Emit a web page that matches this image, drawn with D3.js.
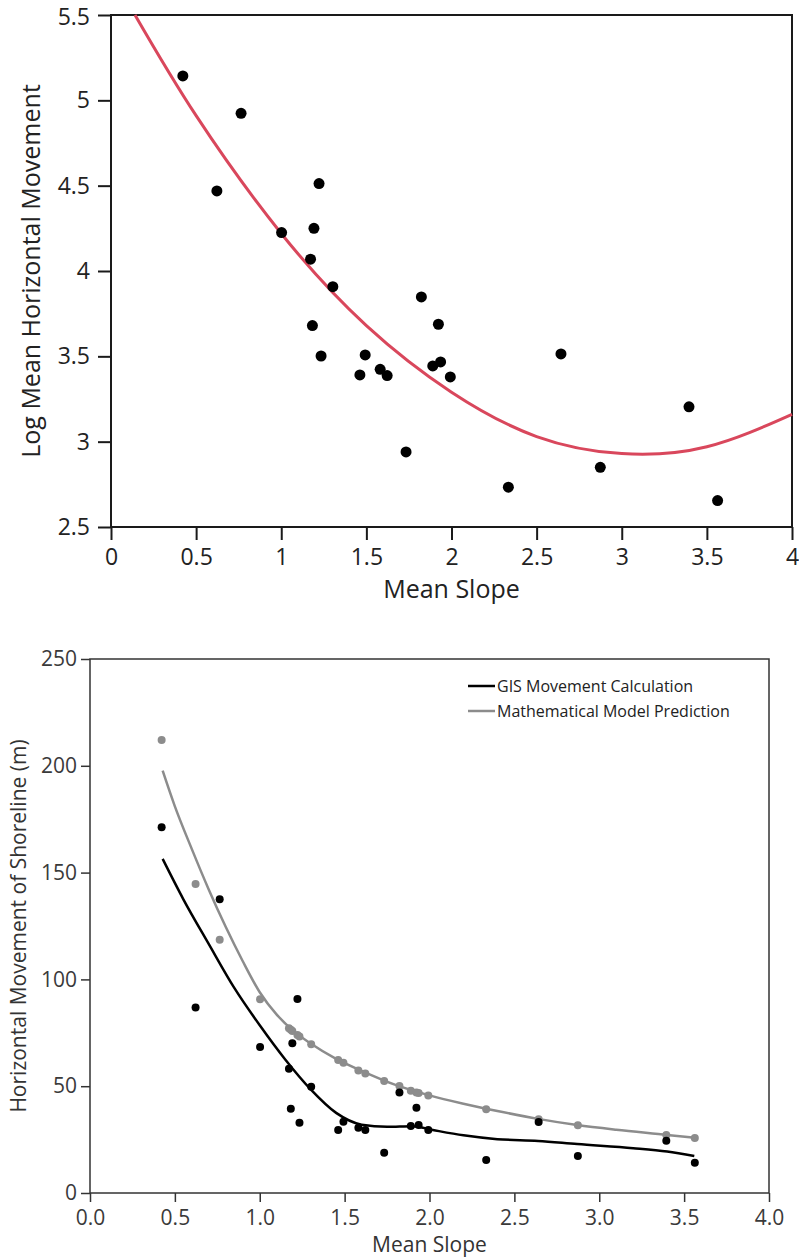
<!DOCTYPE html>
<html>
<head>
<meta charset="utf-8">
<script src="https://cdn.jsdelivr.net/npm/d3@7/dist/d3.min.js"></script>
<style>
    body { margin: 0; background: #fff; }
    svg { display: block; font-family: 'Open Sans', sans-serif; }
    .domain { display: none; }
</style>
</head>
<body>
<svg id="chart" width="799" height="1259"></svg>
<script>
// Mean slope of each site (same sites in both panels)
const slope = [
    0.422, 0.622, 0.764, 1.002, 1.172, 1.183, 1.192, 1.222, 1.234, 1.303,
    1.462, 1.493, 1.581, 1.622, 1.733, 1.823, 1.890, 1.923, 1.936, 1.993,
    2.334, 2.643, 2.874, 3.395, 3.563
];

// Top panel: log of mean horizontal movement
const logMovement = [
    5.143, 4.469, 4.924, 4.225, 4.069, 3.680, 4.250, 4.512, 3.502, 3.908,
    3.391, 3.508, 3.424, 3.387, 2.940, 3.848, 3.444, 3.688, 3.467, 3.379,
    2.733, 3.514, 2.850, 3.204, 2.655
];

// Bottom panel: GIS movement (black) and model prediction (grey), metres
const gisMovement = [
    171.2, 86.9, 137.5, 68.4, 58.2, 39.5, 70.1, 90.8, 32.9, 49.8,
    29.5, 33.4, 30.6, 29.5, 18.9, 47.0, 31.4, 39.9, 31.8, 29.5,
    15.4, 33.2, 17.3, 24.5, 14.2
];
const modelMovement = [
    212.1, 144.7, 118.6, 90.7, 77.1, 76.4, 75.8, 74.0, 73.3, 69.6,
    62.3, 61.0, 57.3, 56.0, 52.4, 50.1, 47.9, 47.1, 46.8, 45.7,
    39.2, 34.5, 31.7, 27.2, 25.7
];

// Fitted curves
const quadFitSlope = [0.141, 0.5, 1.0, 1.5, 2.0, 2.5, 3.0, 3.5, 4.0];
const quadFitLog = [5.50, 4.91, 4.22, 3.68, 3.29, 3.03, 2.93, 2.97, 3.16];

const gisFitSlope = [0.428, 0.55, 0.70, 0.85, 1.00, 1.15, 1.30, 1.45, 1.60, 1.75, 1.90, 2.02, 2.20, 2.40, 2.64, 2.87, 3.20, 3.40, 3.56];
const gisFitValue = [156.4, 137.5, 116.5, 96.0, 78.5, 62.5, 48.5, 37.5, 32.0, 31.0, 31.3, 29.5, 27.0, 25.2, 24.4, 22.9, 21.0, 19.4, 17.3];

const modelFitSlope = [0.428, 0.5, 0.6, 0.7, 0.8, 0.9, 1.0, 1.1, 1.2, 1.3, 1.45, 1.6, 1.8, 2.0, 2.2, 2.4, 2.64, 2.87, 3.1, 3.4, 3.565];
const modelFitValue = [197.7, 181.0, 161.0, 142.0, 124.5, 108.5, 94.0, 83.5, 75.8, 70.0, 62.8, 57.2, 50.6, 45.7, 41.8, 38.4, 34.7, 31.8, 29.6, 27.2, 25.8];

// Ticks and labels
const topXTicks = [0, 0.5, 1, 1.5, 2, 2.5, 3, 3.5, 4];
const topYTicks = [2.5, 3, 3.5, 4, 4.5, 5, 5.5];
const bottomXTicks = [0, 0.5, 1, 1.5, 2, 2.5, 3, 3.5, 4];
const bottomYTicks = [0, 50, 100, 150, 200, 250];
const legendLabels = ['GIS Movement Calculation', 'Mathematical Model Prediction'];
const legendColors = ['#000000', '#8c8c8c'];

const svg = d3.select('#chart');

/* ===== Top panel: log movement with quadratic fit ===== */
const upper = {
    left: 111, right: 792, top: 15, bottom: 527,
    x: d3.scaleLinear().domain([0, 4]),
    y: d3.scaleLinear().domain([2.5, 5.5])
};
upper.x.range([upper.left, upper.right]);
upper.y.range([upper.bottom, upper.top]);

const gTop = svg.append('g');

gTop.append('rect')
    .attr('x', upper.left).attr('y', upper.top)
    .attr('width', upper.right - upper.left).attr('height', upper.bottom - upper.top)
    .attr('fill', 'none').attr('stroke', '#1a1a1a').attr('stroke-width', 2);

const topXAxis = gTop.append('g')
    .attr('transform', `translate(0,${upper.bottom})`)
    .call(d3.axisBottom(upper.x).tickValues(topXTicks).tickSize(13).tickPadding(9).tickFormat(d3.format('~g')));
const topYAxis = gTop.append('g')
    .attr('transform', `translate(${upper.left},0)`)
    .call(d3.axisLeft(upper.y).tickValues(topYTicks).tickSize(13).tickPadding(8).tickFormat(d3.format('~g')));
[topXAxis, topYAxis].forEach(a => {
    a.attr('font-family', null).attr('font-size', null);
    a.selectAll('line').attr('stroke', '#1a1a1a').attr('stroke-width', 2);
    a.selectAll('text').attr('fill', '#222').style('font-size', '23px');
});
// keep the top label inside the page
topYAxis.selectAll('.tick text').filter(d => d === 5.5).attr('dy', '0.42em');

const quadLine = d3.line()
    .x(d => upper.x(d[0]))
    .y(d => upper.y(d[1]))
    .curve(d3.curveNatural);

gTop.append('path')
    .datum(d3.zip(quadFitSlope, quadFitLog))
    .attr('d', quadLine)
    .attr('fill', 'none')
    .attr('stroke', '#d9475c')
    .attr('stroke-width', 3);

gTop.selectAll('.dot')
    .data(d3.zip(slope, logMovement))
    .enter().append('circle')
    .attr('cx', d => upper.x(d[0]))
    .attr('cy', d => upper.y(d[1]))
    .attr('r', 5.5)
    .attr('fill', '#000');

gTop.append('text')
    .attr('x', (upper.left + upper.right) / 2).attr('y', 598)
    .attr('text-anchor', 'middle')
    .style('font-size', '25px').attr('fill', '#222')
    .text('Mean Slope');
gTop.append('text')
    .attr('transform', `translate(40,${(upper.top + upper.bottom) / 2}) rotate(-90)`)
    .attr('text-anchor', 'middle')
    .style('font-size', '25px').attr('fill', '#222')
    .text('Log Mean Horizontal Movement');

/* ===== Bottom panel: GIS vs model ===== */
const lower = {
    left: 90, right: 769, top: 659, bottom: 1193,
    x: d3.scaleLinear().domain([0, 4]),
    y: d3.scaleLinear().domain([0, 250])
};
lower.x.range([lower.left, lower.right]);
lower.y.range([lower.bottom, lower.top]);

const gBot = svg.append('g');

gBot.append('rect')
    .attr('x', lower.left).attr('y', lower.top)
    .attr('width', lower.right - lower.left).attr('height', lower.bottom - lower.top)
    .attr('fill', 'none').attr('stroke', '#333').attr('stroke-width', 1.5);

const botXAxis = gBot.append('g')
    .attr('transform', `translate(0,${lower.bottom})`)
    .call(d3.axisBottom(lower.x).tickValues(bottomXTicks).tickSize(9).tickPadding(8).tickFormat(d3.format('.1f')));
const botYAxis = gBot.append('g')
    .attr('transform', `translate(${lower.left},0)`)
    .call(d3.axisLeft(lower.y).tickValues(bottomYTicks).tickSize(9).tickPadding(4));
[botXAxis, botYAxis].forEach(a => {
    a.attr('font-family', null).attr('font-size', null);
    a.selectAll('line').attr('stroke', '#333').attr('stroke-width', 1.5);
    a.selectAll('text').attr('fill', '#3a3a3a').style('font-size', '21px');
});

const botLine = d3.line()
    .x(d => lower.x(d[0]))
    .y(d => lower.y(d[1]))
    .curve(d3.curveMonotoneX);

// model first so the GIS line sits on top
gBot.append('path')
    .datum(d3.zip(modelFitSlope, modelFitValue))
    .attr('d', botLine)
    .attr('fill', 'none').attr('stroke', legendColors[1]).attr('stroke-width', 2.5);
gBot.append('path')
    .datum(d3.zip(gisFitSlope, gisFitValue))
    .attr('d', botLine)
    .attr('fill', 'none').attr('stroke', legendColors[0]).attr('stroke-width', 2.5);

gBot.selectAll('.model')
    .data(d3.zip(slope, modelMovement))
    .enter().append('circle')
    .attr('cx', d => lower.x(d[0]))
    .attr('cy', d => lower.y(d[1]))
    .attr('r', 4)
    .attr('fill', legendColors[1]);
gBot.selectAll('.gis')
    .data(d3.zip(slope, gisMovement))
    .enter().append('circle')
    .attr('cx', d => lower.x(d[0]))
    .attr('cy', d => lower.y(d[1]))
    .attr('r', 4)
    .attr('fill', legendColors[0]);

// Legend
const legend = gBot.selectAll('.legend')
    .data(legendLabels)
    .enter().append('g')
    .attr('transform', (d, i) => `translate(468,${686 + i * 25})`);
legend.append('line')
    .attr('x1', 0).attr('x2', 27)
    .attr('stroke', (d, i) => legendColors[i]).attr('stroke-width', 2.5);
legend.append('text')
    .attr('x', 29).attr('dy', '0.35em')
    .style('font-size', '16px').attr('fill', '#222')
    .text(d => d);

gBot.append('text')
    .attr('x', (lower.left + lower.right) / 2).attr('y', 1252)
    .attr('text-anchor', 'middle')
    .style('font-size', '21px').attr('fill', '#333')
    .text('Mean Slope');
gBot.append('text')
    .attr('transform', `translate(26,${(lower.top + lower.bottom) / 2}) rotate(-90)`)
    .attr('text-anchor', 'middle')
    .style('font-size', '21px').attr('fill', '#333')
    .text('Horizontal Movement of Shoreline (m)');
</script>
</body>
</html>
